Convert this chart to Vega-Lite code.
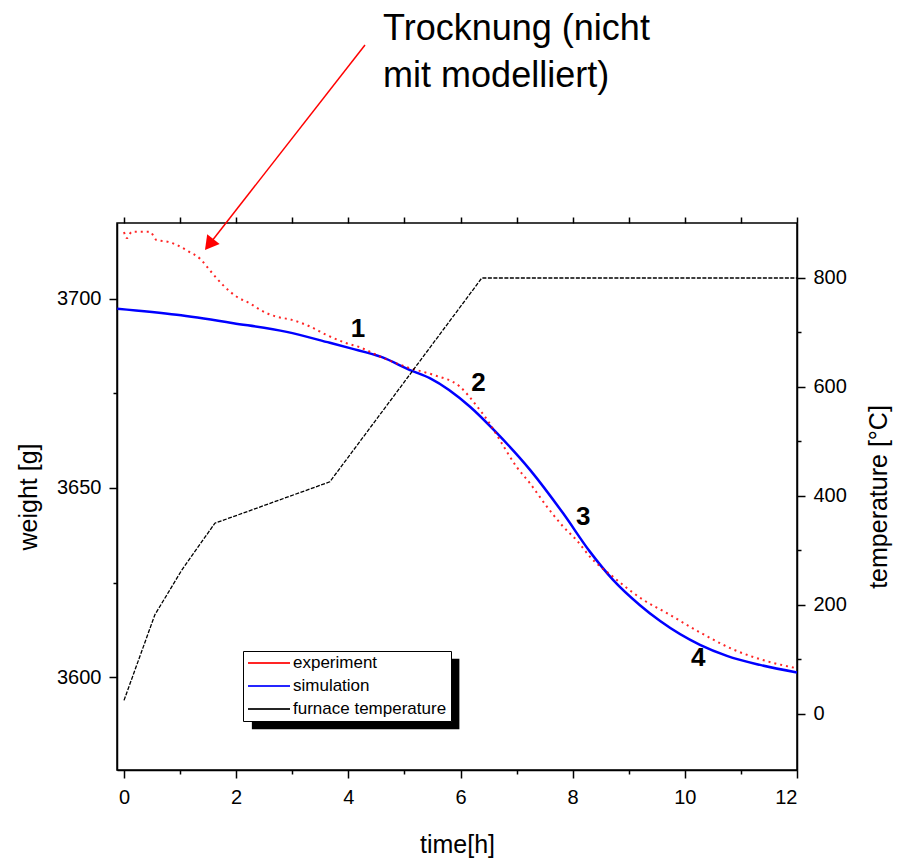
{
  "$schema": "https://vega.github.io/schema/vega-lite/v6.json",
  "width": 680,
  "height": 547,
  "autosize": {"type": "none"},
  "padding": {"left": 117, "top": 223, "right": 102, "bottom": 92},
  "background": "white",
  "config": {
    "font": "Liberation Sans",
    "view": {"stroke": "black", "strokeWidth": 1.5},
    "axis": {
      "domainColor": "black", "domainWidth": 1.5, "tickColor": "black", "tickWidth": 1.5,
      "labelColor": "black", "titleColor": "black", "grid": false,
      "labelFont": "Liberation Sans", "titleFont": "Liberation Sans",
      "labelFontSize": 20, "titleFontSize": 25, "titleFontWeight": "normal", "labelOverlap": false
    }
  },
  "datasets": {
    "exp": [
      {"t": 0, "w": 3717.7, "series": "experiment"},
      {"t": 0.05, "w": 3716.1, "series": "experiment"},
      {"t": 0.14, "w": 3717.8, "series": "experiment"},
      {"t": 0.46, "w": 3717.8, "series": "experiment"},
      {"t": 0.58, "w": 3715.6, "series": "experiment"},
      {"t": 0.79, "w": 3715.1, "series": "experiment"},
      {"t": 0.94, "w": 3714.3, "series": "experiment"},
      {"t": 1.15, "w": 3712.6, "series": "experiment"},
      {"t": 1.36, "w": 3710.6, "series": "experiment"},
      {"t": 1.53, "w": 3707.6, "series": "experiment"},
      {"t": 1.77, "w": 3703.6, "series": "experiment"},
      {"t": 2.01, "w": 3700.6, "series": "experiment"},
      {"t": 2.25, "w": 3698.8, "series": "experiment"},
      {"t": 2.43, "w": 3697.1, "series": "experiment"},
      {"t": 2.72, "w": 3695.3, "series": "experiment"},
      {"t": 2.96, "w": 3694.6, "series": "experiment"},
      {"t": 3.32, "w": 3692.7, "series": "experiment"},
      {"t": 3.61, "w": 3690.5, "series": "experiment"},
      {"t": 3.97, "w": 3688.3, "series": "experiment"},
      {"t": 4.21, "w": 3687.2, "series": "experiment"},
      {"t": 4.62, "w": 3684.4, "series": "experiment"},
      {"t": 5.1, "w": 3681.7, "series": "experiment"},
      {"t": 5.52, "w": 3679.9, "series": "experiment"},
      {"t": 5.99, "w": 3676.8, "series": "experiment"},
      {"t": 6.29, "w": 3671.7, "series": "experiment"},
      {"t": 6.5, "w": 3667.5, "series": "experiment"},
      {"t": 6.7, "w": 3662.7, "series": "experiment"},
      {"t": 7.0, "w": 3655.6, "series": "experiment"},
      {"t": 7.24, "w": 3651.2, "series": "experiment"},
      {"t": 7.54, "w": 3645.1, "series": "experiment"},
      {"t": 7.83, "w": 3639.8, "series": "experiment"},
      {"t": 8.07, "w": 3636.2, "series": "experiment"},
      {"t": 8.31, "w": 3631.8, "series": "experiment"},
      {"t": 8.72, "w": 3626.5, "series": "experiment"},
      {"t": 9.26, "w": 3620.4, "series": "experiment"},
      {"t": 9.68, "w": 3616.9, "series": "experiment"},
      {"t": 10.27, "w": 3611.8, "series": "experiment"},
      {"t": 10.86, "w": 3607.3, "series": "experiment"},
      {"t": 11.46, "w": 3604.2, "series": "experiment"},
      {"t": 12.0, "w": 3602.3, "series": "experiment"}
    ],
    "sim": [
      {"t": -0.12, "w": 3697.4, "series": "simulation"},
      {"t": 0.94, "w": 3695.8, "series": "simulation"},
      {"t": 1.95, "w": 3693.6, "series": "simulation"},
      {"t": 2.9, "w": 3691.3, "series": "simulation"},
      {"t": 3.67, "w": 3688.4, "series": "simulation"},
      {"t": 4.03, "w": 3687.0, "series": "simulation"},
      {"t": 4.6, "w": 3684.6, "series": "simulation"},
      {"t": 5.1, "w": 3681.2, "series": "simulation"},
      {"t": 5.46, "w": 3679.0, "series": "simulation"},
      {"t": 6.17, "w": 3671.5, "series": "simulation"},
      {"t": 6.65, "w": 3664.5, "series": "simulation"},
      {"t": 7.24, "w": 3654.8, "series": "simulation"},
      {"t": 7.83, "w": 3643.3, "series": "simulation"},
      {"t": 8.31, "w": 3633.1, "series": "simulation"},
      {"t": 8.72, "w": 3625.7, "series": "simulation"},
      {"t": 9.2, "w": 3619.0, "series": "simulation"},
      {"t": 9.56, "w": 3614.8, "series": "simulation"},
      {"t": 10.27, "w": 3608.5, "series": "simulation"},
      {"t": 10.75, "w": 3605.6, "series": "simulation"},
      {"t": 11.34, "w": 3603.2, "series": "simulation"},
      {"t": 12.0, "w": 3601.2, "series": "simulation"}
    ],
    "temp": [
      {"t": 0, "T": 25, "series": "furnace temperature"},
      {"t": 0.55, "T": 182, "series": "furnace temperature"},
      {"t": 1.03, "T": 264, "series": "furnace temperature"},
      {"t": 1.62, "T": 350, "series": "furnace temperature"},
      {"t": 3.67, "T": 426, "series": "furnace temperature"},
      {"t": 6.38, "T": 800, "series": "furnace temperature"},
      {"t": 12, "T": 800, "series": "furnace temperature"}
    ],
    "marks": [
      {"t": 4.17, "w": 3692.1, "label": "1"},
      {"t": 6.32, "w": 3677.7, "label": "2"},
      {"t": 8.19, "w": 3642.4, "label": "3"},
      {"t": 10.24, "w": 3604.9, "label": "4"}
    ],
    "note": [
      {"t": 4.62, "w": 3768.5, "label": "Trocknung (nicht\nmit modelliert)"}
    ],
    "arrow": [
      {"t": 4.297, "w": 3767.2, "t2": 1.519, "w2": 3714.4}
    ],
    "shadow": [
      {"t": 2.28, "w": 3604.8, "t2": 5.98, "w2": 3586.2}
    ]
  },
  "layer": [
    {
      "layer": [
        {
          "data": {"name": "sim"},
          "mark": {"type": "line", "strokeWidth": 2.5, "interpolate": "monotone"},
          "encoding": {
            "x": {"field": "t", "type": "quantitative", "scale": {"domain": [-0.125, 12], "nice": false, "zero": false},
              "axis": {
                "orient": "bottom", "title": "time[h]",
                "values": [0, 1, 2, 3, 4, 5, 6, 7, 8, 9, 10, 11, 12],
                "labelExpr": "datum.value % 2 === 0 ? datum.label : ''",
                "tickSize": {"condition": {"test": "datum.value % 2 !== 0", "value": 4}, "value": 8},
                "labelPadding": 9, "titlePadding": 25
              }
            },
            "y": {"field": "w", "type": "quantitative", "scale": {"domain": [3575.4, 3720.1], "nice": false, "zero": false},
              "axis": {
                "orient": "left", "title": "weight [g]", "format": "d",
                "values": [3600, 3625, 3650, 3675, 3700],
                "labelExpr": "datum.value % 50 === 0 ? datum.label : ''",
                "tickSize": {"condition": {"test": "datum.value % 50 !== 0", "value": 4}, "value": 8},
                "labelPadding": 8, "titlePadding": 15
              }
            },
            "color": {
              "field": "series", "type": "nominal",
              "scale": {"domain": ["experiment", "simulation", "furnace temperature"], "range": ["#ff0000", "#0000ff", "#000000"]},
              "legend": {
                "title": null, "orient": "none", "legendX": 126, "legendY": 428,
                "strokeColor": "black", "fillColor": "white", "padding": 4,
                "symbolType": "stroke", "symbolSize": 1764, "symbolStrokeWidth": 2, "symbolDash": [],
                "clipHeight": 16, "rowPadding": 6, "labelFontSize": 17, "labelFont": "Liberation Sans",
                "labelColor": "black", "labelOffset": 2
              }
            }
          }
        },
        {
          "data": {"name": "shadow"},
          "mark": {"type": "rect", "color": "black"},
          "encoding": {
            "x": {"field": "t", "type": "quantitative"},
            "x2": {"field": "t2"},
            "y": {"field": "w", "type": "quantitative"},
            "y2": {"field": "w2"}
          }
        },
        {
          "data": {"name": "exp"},
          "mark": {"type": "line", "strokeWidth": 2, "strokeDash": [2, 4], "opacity": 0.85, "interpolate": "monotone"},
          "encoding": {
            "x": {"field": "t", "type": "quantitative"},
            "y": {"field": "w", "type": "quantitative"},
            "color": {"field": "series", "type": "nominal"}
          }
        },
        {
          "data": {"name": "marks"},
          "mark": {"type": "text", "fontSize": 26, "fontWeight": "bold", "color": "black", "font": "Liberation Sans"},
          "encoding": {
            "x": {"field": "t", "type": "quantitative"},
            "y": {"field": "w", "type": "quantitative"},
            "text": {"field": "label"}
          }
        },
        {
          "data": {"name": "arrow"},
          "mark": {"type": "rule", "color": "#ff0000", "strokeWidth": 1.5},
          "encoding": {
            "x": {"field": "t", "type": "quantitative"},
            "y": {"field": "w", "type": "quantitative"},
            "x2": {"field": "t2"},
            "y2": {"field": "w2"}
          }
        },
        {
          "data": {"name": "arrow"},
          "mark": {"type": "point", "shape": "triangle-up", "angle": 218, "size": 250, "filled": true, "color": "#ff0000", "opacity": 1},
          "encoding": {
            "x": {"field": "t2", "type": "quantitative"},
            "y": {"field": "w2", "type": "quantitative"}
          }
        },
        {
          "data": {"name": "note"},
          "mark": {"type": "text", "fontSize": 36, "lineBreak": "\n", "lineHeight": 47, "align": "left", "baseline": "alphabetic", "color": "black", "font": "Liberation Sans"},
          "encoding": {
            "x": {"field": "t", "type": "quantitative"},
            "y": {"field": "w", "type": "quantitative"},
            "text": {"field": "label"}
          }
        }
      ]
    },
    {
      "data": {"name": "temp"},
      "mark": {"type": "line", "strokeWidth": 1.3, "strokeDash": [4, 1.5]},
      "encoding": {
        "x": {"field": "t", "type": "quantitative", "scale": {"domain": [-0.125, 12], "nice": false, "zero": false},
          "axis": {"orient": "top", "title": null, "values": [0, 1, 2, 3, 4, 5, 6, 7, 8, 9, 10, 11, 12], "labels": false, "domain": false, "ticks": true, "tickSize": 6, "tickColor": "black", "tickWidth": 1.5}
        },
        "y": {"field": "T", "type": "quantitative", "scale": {"domain": [-102.8, 900.9], "nice": false, "zero": false},
          "axis": {
            "orient": "right", "title": "temperature [°C]", "titleAngle": 270, "titleBaseline": "top",
            "values": [0, 100, 200, 300, 400, 500, 600, 700, 800],
            "labelExpr": "datum.value % 200 === 0 ? datum.label : ''",
            "tickSize": {"condition": {"test": "datum.value % 200 !== 0", "value": 4}, "value": 8},
            "labelPadding": 8, "titlePadding": 20
          }
        },
        "color": {"field": "series", "type": "nominal"}
      }
    }
  ],
  "resolve": {"scale": {"y": "independent"}, "axis": {"x": "independent"}}
}
